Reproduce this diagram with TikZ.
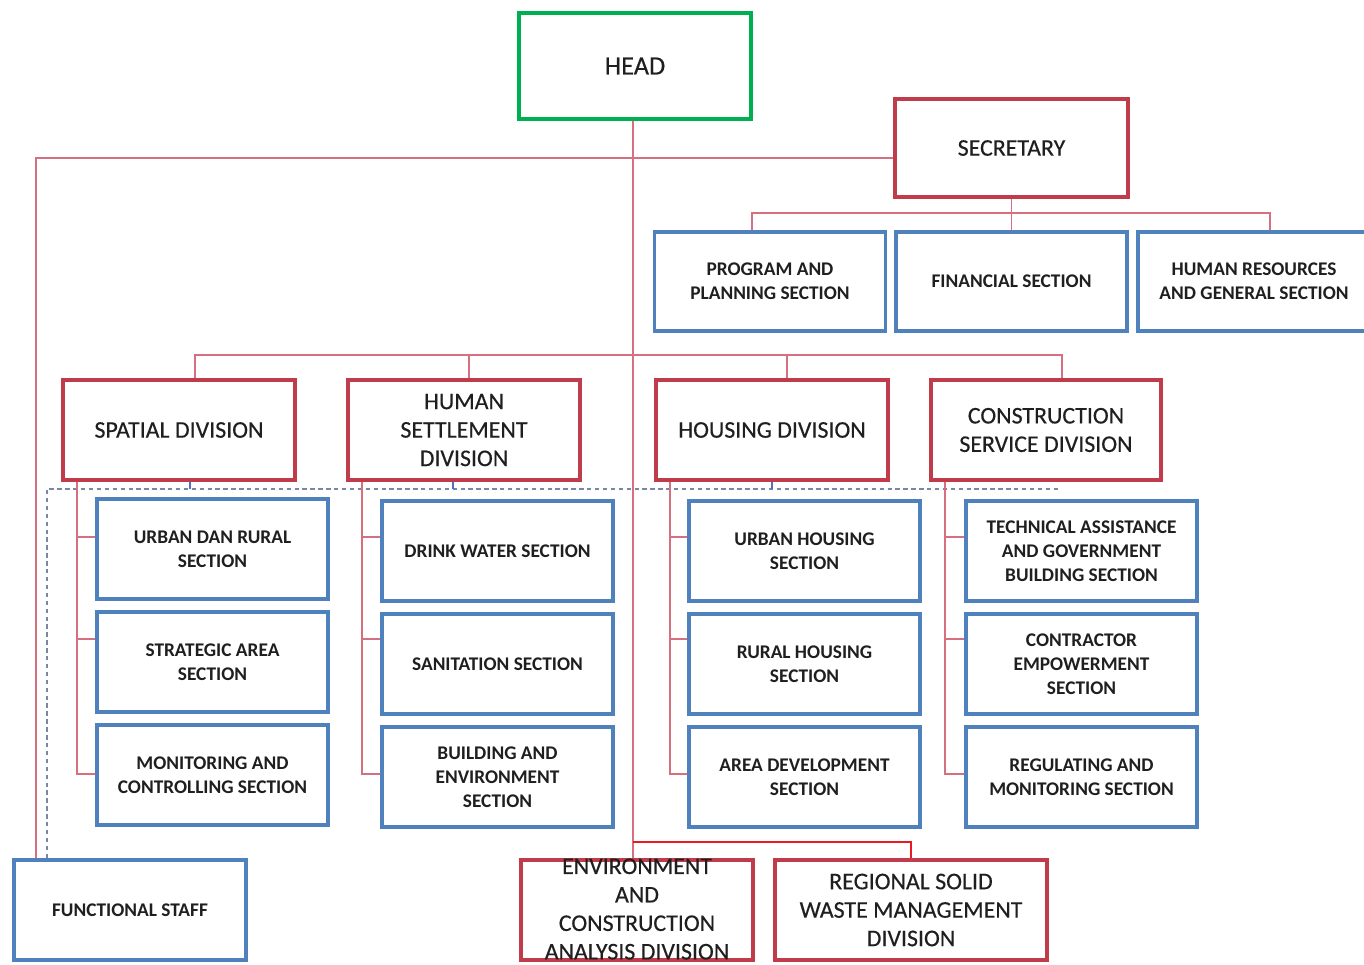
\documentclass[tikz,border=0pt]{standalone}
\usepackage{fontspec}
\setmainfont{Carlito}
\newfontfamily\divfamily[FakeBold=0.35]{Carlito}
\usetikzlibrary{calc}
\definecolor{headgreen}{RGB}{0,176,80}
\definecolor{divred}{RGB}{192,60,75}
\definecolor{secblue}{RGB}{79,129,189}
\definecolor{linkred}{RGB}{214,112,128}
\definecolor{brightred}{RGB}{235,25,35}
\definecolor{dashgrey}{RGB}{120,135,165}
\definecolor{tickblue}{RGB}{80,110,200}
\begin{document}
\begin{tikzpicture}[x=0.02cm,y=-0.02cm,
  box/.style={draw, line width=2.2pt, fill=white, inner sep=0pt, align=center, text=black!88},
  divfont/.style={font=\divfamily\fontsize{13.6}{16.2}\selectfont},
  divbox/.style={box, divfont, draw=divred, minimum width=4.64cm, minimum height=2.0cm},
  secbox/.style={box, draw=secblue, minimum width=4.62cm, minimum height=2.0cm,
    font=\bfseries\fontsize{11}{13.6}\selectfont},
  headbox/.style={box, draw=headgreen, line width=2.6pt, minimum width=4.64cm, minimum height=2.12cm,
    font=\divfamily\fontsize{15}{18}\selectfont},
  link/.style={draw=linkred, line width=0.9pt},
  brightlink/.style={draw=brightred, line width=1pt},
  dashline/.style={draw=dashgrey, line width=0.7pt, dash pattern=on 2.5pt off 2pt},
  tickline/.style={draw=tickblue, line width=0.7pt}]

\useasboundingbox (0,0) rectangle (1364,964);

% ---- top level ----
\node[headbox] (head) at (635,66) {HEAD};
\node[divbox, minimum width=4.66cm, minimum height=1.96cm] (sec) at (1011.5,148) {SECRETARY};

\node[secbox, minimum height=1.98cm] (prog) at (770,281.5) {PROGRAM AND\\PLANNING SECTION};
\node[secbox, minimum height=1.98cm] (fin) at (1011.5,281.5) {FINANCIAL SECTION};
\node[secbox, minimum height=1.98cm, minimum width=4.64cm] (hr) at (1254,281.5) {HUMAN RESOURCES\\AND GENERAL SECTION};

% ---- divisions ----
\node[divbox] (spatial) at (179,430) {SPATIAL DIVISION};
\node[divbox] (human) at (464,430) {HUMAN\\SETTLEMENT\\DIVISION};
\node[divbox] (housing) at (772,430) {HOUSING DIVISION};
\node[divbox, minimum width=4.6cm] (constr) at (1046,430) {CONSTRUCTION\\SERVICE DIVISION};

% ---- sections ----
\node[secbox] (s11) at (212.5,549) {URBAN DAN RURAL\\SECTION};
\node[secbox] (s12) at (212.5,662) {STRATEGIC AREA\\SECTION};
\node[secbox] (s13) at (212.5,775) {MONITORING AND\\CONTROLLING SECTION};

\node[secbox] (s21) at (497.5,551) {DRINK WATER SECTION};
\node[secbox] (s22) at (497.5,664) {SANITATION SECTION};
\node[secbox] (s23) at (497.5,777) {BUILDING AND\\ENVIRONMENT\\SECTION};

\node[secbox] (s31) at (804.5,551) {URBAN HOUSING\\SECTION};
\node[secbox] (s32) at (804.5,664) {RURAL HOUSING\\SECTION};
\node[secbox] (s33) at (804.5,777) {AREA DEVELOPMENT\\SECTION};

\node[secbox] (s41) at (1081.5,551) {TECHNICAL ASSISTANCE\\AND GOVERNMENT\\BUILDING SECTION};
\node[secbox] (s42) at (1081.5,664) {CONTRACTOR\\EMPOWERMENT\\SECTION};
\node[secbox] (s43) at (1081.5,777) {REGULATING AND\\MONITORING SECTION};

% ---- bottom row ----
\node[secbox, minimum width=4.64cm] (func) at (130,910) {FUNCTIONAL STAFF};
\node[divbox] (env) at (637,910) {};
\node[divfont, text=black!88, align=center, inner sep=0pt] (envtext) at (637,909)
  {ENVIRONMENT\\AND\\CONSTRUCTION\\ANALYSIS DIVISION};
\node[divbox, minimum width=5.44cm] (reg) at (911,910) {REGIONAL SOLID\\WASTE MANAGEMENT\\DIVISION};

% ---- connectors ----
% trunk from the head down to the analysis division
\path (head.south) ++(-2,0) coordinate (trunk);
\draw[link] (trunk) -- (trunk |- env.north);
\path (trunk) ++(0,721) coordinate (fork);
\draw[brightlink] (fork) -| (reg.north);

% secretary and its sections
\path (sec.west) ++(0,10) coordinate (secL);
\draw[link] (secL) -| ($(func.north)+(-94,0)$);
\path (sec.south) ++(0,14) coordinate (sbus);
\draw[link] (sec.south) -- (fin.north);
\draw[link] ($(prog.north)+(-18,0)$) |- (sbus) -| ($(hr.north)+(16,0)$);

% bus to the divisions
\draw[link] ($(spatial.north)+(16,0)$) |- ($(constr.north)+(16,-23)$) -- ($(constr.north)+(16,0)$);
\draw[link] ($(human.north)+(5,0)$) -- ++(0,-23);
\draw[link] ($(housing.north)+(15,0)$) -- ++(0,-23);

% dashed staff frame
\draw[dashline] ($(func.north)+(-83,0)$) |- ($(constr.south)+(12,7)$);
\draw[tickline] ($(spatial.south)+(11,0)$) -- ++(0,7);
\draw[tickline] ($(human.south)+(-11,0)$) -- ++(0,7);
\draw[tickline] (housing.south) -- ++(0,7);

% section spines
\foreach \d/\a/\b/\c/\o in {spatial/s11/s12/s13/0, human/s21/s22/s23/-2, housing/s31/s32/s33/-2, constr/s41/s42/s43/-2} {
  \draw[link] ($(\d.south west)+(16,0)$) |- ($(\c.west)+(0,-1+\o)$);
  \draw[link] ($(\a.west)+(0,-12+\o)$) -- ++(-18,0);
  \draw[link] ($(\b.west)+(0,-23+\o)$) -- ++(-18,0);
}
\end{tikzpicture}
\end{document}
